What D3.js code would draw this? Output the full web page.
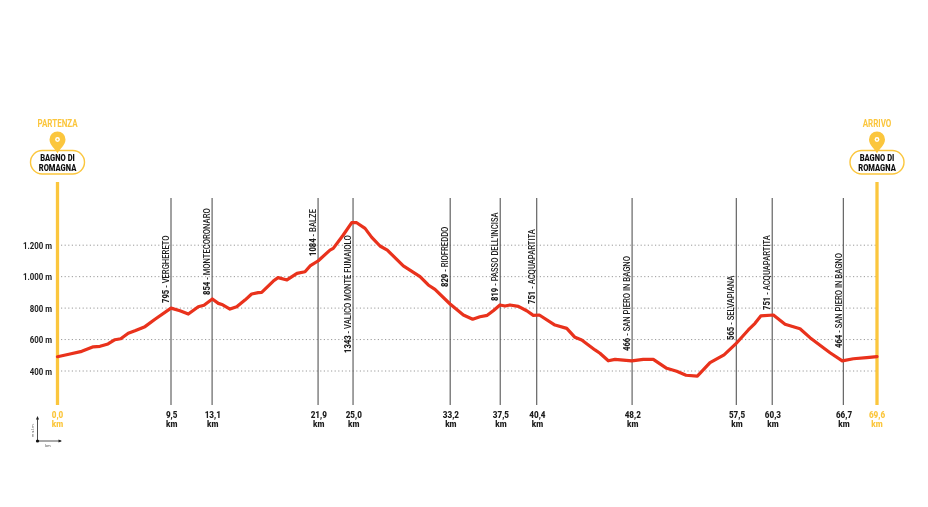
<!DOCTYPE html>
<html>
<head>
<meta charset="utf-8">
<script src="https://cdn.jsdelivr.net/npm/d3@7"></script>
<style>
html,body{margin:0;padding:0;background:#fff}
svg{display:block}
text{font-family:Roboto,"Liberation Sans",sans-serif}
</style>
</head>
<body>
<svg id="chart" width="928" height="507"></svg>
<script>
// Drawn distance of each profile point (km) and elevation (m)
const profileKm = [0,1.06,2.06,3.04,3.61,4.29,4.88,5.37,6.01,6.58,7.43,8.28,9.64,10.40,11.11,11.96,12.44,13.15,13.66,14.03,14.65,15.22,15.92,16.49,17.05,17.34,18.33,18.73,19.49,20.34,21.02,21.45,22.15,23.14,23.42,24.27,24.99,25.41,26.12,26.69,27.39,28.01,29.37,30.79,31.49,32.06,33.34,34.47,35.26,35.88,36.50,37.01,37.58,38.01,38.43,39.14,39.85,40.41,40.92,42.25,43.25,43.95,44.52,45.65,46.07,46.78,47.35,48.77,49.75,50.60,51.74,52.59,53.38,54.34,55.42,56.61,57.60,58.67,59.24,59.73,60.80,61.79,63.06,63.91,65.61,66.65,67.59,68.73,69.6];
const profileM = [491,508,525,554,557,572,599,605,640,656,682,729,800,783,762,809,818,858,830,821,794,809,851,890,898,900,972,994,979,1021,1031,1068,1101,1169,1180,1265,1343,1343,1307,1250,1195,1169,1068,1000,947,919,826,756,729,745,754,783,820,813,820,811,783,754,756,692,671,614,597,534,513,465,474,464,474,474,417,398,373,368,453,502,572,661,703,750,756,697,669,612,516,464,478,485,491];

// Waypoints
const stopDrawnKm = [9.64,13.13,22.13,25.1,33.35,37.6,40.7,48.8,57.65,60.7,66.74];
const stopKmLabels = ["9,5","13,1","21,9","25,0","33,2","37,5","40,4","48,2","57,5","60,3","66,7"];
const stopHeights = ["795","854","1084","1343","829","819","751","466","565","751","464"];
const stopNames = ["VERGHERETO","MONTECORONARO","BALZE","VALICO MONTE FUMAIOLO","RIOFREDDO","PASSO DELL'INCISA","ACQUAPARTITA","SAN PIERO IN BAGNO","SELVAPIANA","ACQUAPARTITA","SAN PIERO IN BAGNO"];

const gridTicks = [400,600,800,1000,1200];
const endKm = [0,69.6];
const endKmLabels = ["0,0","69,6"];
const endTitles = ["PARTENZA","ARRIVO"];
const endPlace = ["BAGNO DI","ROMAGNA"];

// Layout
const yellow = "#fbc63d", red = "#e9301b", ink = "#1c1c1c";
const labelBottom = [303,295,256,353,287,301,304,351,340,310,348];
const ruleTop = 198, ruleBottom = 405, yellowTop = 182;
const narrow = 0.78;

const x = d3.scaleLinear().domain([0,69.6]).range([57.5,877]);
const y = d3.scaleLinear().domain([400,1200]).range([371,245.2]);
const defs = d3.select("#chart").append("defs");
defs.append("filter").attr("id","soft").attr("filterUnits","userSpaceOnUse")
  .attr("x",0).attr("y",0).attr("width",928).attr("height",507)
  .append("feGaussianBlur").attr("stdDeviation",0.3);
const svg = d3.select("#chart").append("g").attr("filter","url(#soft)");

// Grid
svg.append("g").selectAll("line").data(gridTicks).join("line")
  .attr("x1",61).attr("x2",877)
  .attr("y1",d=>y(d)).attr("y2",d=>y(d))
  .attr("stroke","#8f8f8f").attr("stroke-width",0.9).attr("stroke-dasharray","1.2 2.4");

const yAxis = d3.axisLeft(y).tickValues(gridTicks).tickSize(0).tickPadding(0)
  .tickFormat(d=>d3.format(",")(d).replace(",",".")+" m");
const ya = svg.append("g").attr("transform","translate(52,0)").call(yAxis);
ya.select(".domain").remove();
ya.selectAll("text").attr("font-size",9.6).attr("font-weight",700).attr("fill",ink)
  .attr("font-family","Roboto").attr("transform","scale(0.82,1)");

// Waypoint rules
svg.append("g").selectAll("line").data(stopDrawnKm).join("line")
  .attr("x1",d=>x(d)).attr("x2",d=>x(d)).attr("y1",ruleTop).attr("y2",ruleBottom)
  .attr("stroke","#555").attr("stroke-width",1.1);

// Start / end rules
svg.append("g").selectAll("line").data(endKm).join("line")
  .attr("x1",d=>x(d)).attr("x2",d=>x(d)).attr("y1",yellowTop).attr("y2",ruleBottom)
  .attr("stroke",yellow).attr("stroke-width",3.3);

// Profile
const line = d3.line().x((d,i)=>x(profileKm[i])).y(d=>y(d)).curve(d3.curveLinear);
svg.append("path").datum(profileM).attr("d",line)
  .attr("fill","none").attr("stroke",red).attr("stroke-width",3.2)
  .attr("stroke-linejoin","round").attr("stroke-linecap","round");

// Vertical labels
const lab = svg.append("g").selectAll("text").data(stopNames).join("text")
  .attr("transform",(d,i)=>`translate(${x(stopDrawnKm[i])-1.8},${labelBottom[i]}) rotate(-90) scale(${narrow},1)`)
  .attr("font-size",9.8).attr("font-weight",500).attr("fill",ink);
lab.append("tspan").attr("font-weight",900).text((d,i)=>stopHeights[i]);
lab.append("tspan").text(d=>" - "+d);

// Km labels
function kmLabel(g,px,txt,col){
  [[txt,418],["km",427]].forEach(([s,py])=>{
    g.append("text").attr("text-anchor","middle").attr("fill",col)
      .attr("font-size",8.8).attr("font-weight",900)
      .attr("transform",`translate(${px},${py}) scale(0.92,1)`).text(s);
  });
}
const kg = svg.append("g");
stopDrawnKm.forEach((k,i)=>kmLabel(kg,x(k)+0.7,stopKmLabels[i],ink));
endKm.forEach((k,i)=>kmLabel(kg,x(k),endKmLabels[i],yellow));

// Pins
endKm.forEach((k,i)=>{
  const g = svg.append("g").attr("transform",`translate(${x(k)},0)`);
  g.append("text").attr("text-anchor","middle").attr("transform","translate(0,126.5) scale(0.8,1)")
    .attr("font-size",10).attr("font-weight",700).attr("fill",yellow).text(endTitles[i]);
  g.append("rect").attr("x",-27).attr("y",150.5).attr("width",54).attr("height",23.5).attr("rx",11.7)
    .attr("fill","#fff").attr("stroke",yellow).attr("stroke-width",1.4);
  g.append("path").attr("d","M0,153.5C-2,149 -8,145 -8,139.5A8,8 0 1 1 8,139.5C8,145 2,149 0,153.5Z").attr("fill",yellow);
  g.append("circle").attr("cy",139.5).attr("r",2.4).attr("fill","#fff");
  g.append("circle").attr("cy",139.5).attr("r",1).attr("fill",yellow);
  endPlace.forEach((d,j)=>{
    g.append("text").attr("text-anchor","middle").attr("transform",`translate(0,${161.4+j*9.1}) scale(0.86,1)`)
      .attr("font-size",8.8).attr("font-weight",900).attr("fill","#111").text(d);
  });
});

// Small key
const key = svg.append("g");
key.append("path").attr("d","M37.5,441V418M61,441H37.5").attr("stroke","#222").attr("stroke-width",0.8).attr("fill","none");
key.append("path").attr("d","M37.5,416l-1.6,3.5h3.2ZM62,441l-3.5,-1.6v3.2Z").attr("fill","#222");
key.append("circle").attr("cx",37.5).attr("cy",441).attr("r",1.6).attr("fill","#111");
key.append("text").attr("transform","translate(34,437) rotate(-90)").attr("font-size",3.8).attr("fill","#444").text("m s.l.m.");
key.append("text").attr("x",48).attr("y",446.5).attr("text-anchor","middle").attr("font-size",3.8).attr("fill","#444").text("km");
</script>
</body>
</html>
